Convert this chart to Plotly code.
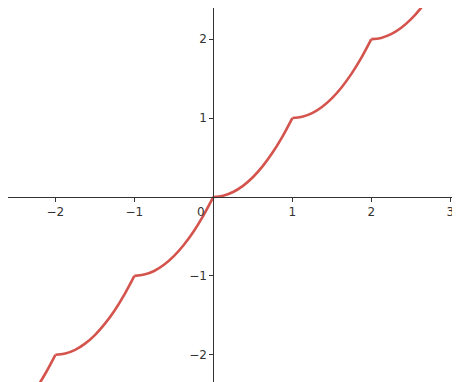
import plotly.graph_objects as go

# Curve points (x, y)
x_vals = [-3.0, -2.875, -2.75, -2.625, -2.5, -2.375, -2.25, -2.125,
          -2.0, -1.875, -1.75, -1.625, -1.5, -1.375, -1.25, -1.125,
          -1.0, -0.875, -0.75, -0.625, -0.5, -0.375, -0.25, -0.125,
          0.0, 0.125, 0.25, 0.375, 0.5, 0.625, 0.75, 0.875,
          1.0, 1.125, 1.25, 1.375, 1.5, 1.625, 1.75, 1.875,
          2.0, 2.125, 2.25, 2.375, 2.5, 2.625, 2.75, 2.875, 3.0]
y_vals = [-3.0, -2.984, -2.938, -2.859, -2.75, -2.609, -2.438, -2.234,
          -2.0, -1.984, -1.938, -1.859, -1.75, -1.609, -1.438, -1.234,
          -1.0, -0.984, -0.938, -0.859, -0.75, -0.609, -0.438, -0.234,
          0.0, 0.016, 0.063, 0.141, 0.25, 0.391, 0.563, 0.766,
          1.0, 1.016, 1.063, 1.141, 1.25, 1.391, 1.563, 1.766,
          2.0, 2.016, 2.063, 2.141, 2.25, 2.391, 2.563, 2.766, 3.0]

x_ticks = [-2, -1, 1, 2, 3]
y_ticks = [-2, -1, 1, 2]
origin_label = "0"

x_range = [-2.60, 3.123]
y_range = [-2.345, 2.395]

axis_col = "#333333"
line_col = "#d4544d"
font = dict(family="DejaVu Sans", size=12, color="#333333")

fig = go.Figure()
# one smooth piece per unit interval, so the corners at the integers stay sharp
for s in range(0, len(x_vals) - 1, 8):
    fig.add_trace(go.Scatter(x=x_vals[s:s + 9], y=y_vals[s:s + 9], mode="lines",
                             line=dict(color=line_col, width=2.6, shape="spline",
                                       smoothing=1.0),
                             hoverinfo="skip", showlegend=False))

# the page adds an 8px body margin, so the figure is 8px smaller
fig.update_layout(
    width=452, height=374,
    margin=dict(l=0, r=0, t=0, b=0),
    paper_bgcolor="white", plot_bgcolor="white",
    showlegend=False,
    xaxis=dict(range=x_range, anchor="free", automargin=False,
               position=(0 - y_range[0]) / (y_range[1] - y_range[0]),
               tickvals=x_ticks, ticks="outside", ticklen=4, tickwidth=1,
               tickcolor=axis_col, showline=True, linecolor=axis_col, linewidth=1.2,
               showgrid=False, zeroline=False, tickfont=font,
               ticklabeloverflow="allow"),
    yaxis=dict(range=y_range, anchor="free", automargin=False,
               position=(0 - x_range[0]) / (x_range[1] - x_range[0]),
               tickvals=y_ticks, ticks="outside", ticklen=4, tickwidth=1,
               tickcolor=axis_col, showline=True, linecolor=axis_col, linewidth=1.2,
               showgrid=False, zeroline=False, tickfont=font,
               ticklabeloverflow="allow"),
)
fig.add_annotation(x=0, y=0, text=origin_label, showarrow=False,
                   xanchor="right", yanchor="top", xshift=-6, yshift=-6,
                   font=font)

fig.write_html("out.html")
